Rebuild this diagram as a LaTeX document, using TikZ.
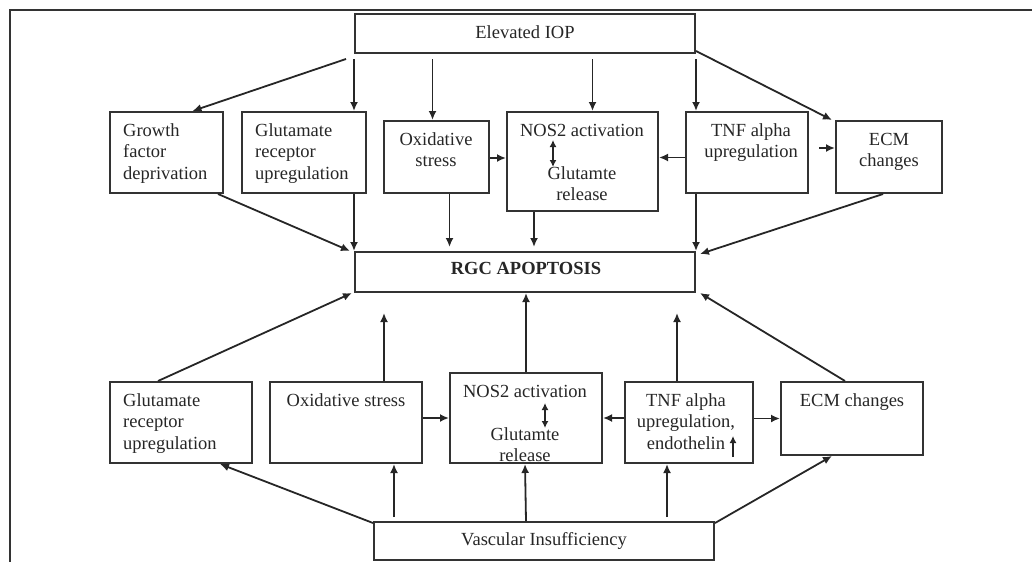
\documentclass[tikz,border=0pt]{standalone}
\usepackage{fontspec}
\setmainfont{Liberation Serif}
\usetikzlibrary{arrows.meta}

\begin{document}
\begin{tikzpicture}[x=1pt, y=-1pt,
	box/.style={draw=black!80, line width=2pt, inner sep=0pt},
	txt/.style={inner sep=0pt, font=\fontsize{18.5}{21.7}\selectfont, text=black!85},
	arr/.style={draw=black!85, line width=1.8pt, -{Latex[length=9pt,width=8pt]}},
	darr/.style={draw=black!85, line width=1.8pt, {Latex[length=7pt,width=7pt]}-{Latex[length=7pt,width=7pt]}}]
	\useasboundingbox (0,0) rectangle (1032,562);
	\draw[line width=2pt, black!80] (1032,10) -- (10,10) -- (10,562);
	% boxes
	\node[box, minimum width=340pt, minimum height=39pt] (iop) at (525,33.5) {};
	\node[box, minimum width=113pt, minimum height=81pt] (t1) at (166.5,152.5) {};
	\node[box, minimum width=124pt, minimum height=81pt] (t2) at (304,152.5) {};
	\node[box, minimum width=105pt, minimum height=72pt] (t3) at (436.5,157) {};
	\node[box, minimum width=151pt, minimum height=99pt] (t4) at (582.5,161.5) {};
	\node[box, minimum width=122pt, minimum height=81pt] (t5) at (747,152.5) {};
	\node[box, minimum width=106pt, minimum height=72pt] (t6) at (889,157) {};
	\node[box, minimum width=340pt, minimum height=40pt] (rgc) at (525,272) {};
	\node[box, minimum width=142pt, minimum height=81pt] (b1) at (181,422.5) {};
	\node[box, minimum width=152pt, minimum height=81pt] (b2) at (346,422.5) {};
	\node[box, minimum width=152pt, minimum height=90pt] (b3) at (526,418) {};
	\node[box, minimum width=128pt, minimum height=81pt] (b4) at (689,422.5) {};
	\node[box, minimum width=142pt, minimum height=73pt] (b5) at (852,418.5) {};
	\node[box, minimum width=340pt, minimum height=38pt] (vas) at (544,541) {};
	% texts (base = last line)
	\node[txt, anchor=base] (iopt) at (525,38) {Elevated IOP};
	\node[txt, anchor=base west, align=left] (t1t) at (123,179.4) {Growth\\factor\\deprivation};
	\node[txt, anchor=base west, align=left] (t2t) at (255,179.4) {Glutamate\\receptor\\upregulation};
	\node[txt, anchor=base, align=center] (t3t) at (436,166.7) {Oxidative\\stress};
	\node[txt, anchor=base, align=center] (t4t) at (582,200.7) {NOS2 activation\\[21.3pt]Glutamte\\release};
	\node[txt, anchor=base, align=center] (t5t) at (751,157.7) {TNF alpha\\upregulation};
	\node[txt, anchor=base, align=center] (t6t) at (889,166.7) {ECM\\changes};
	\node[txt, anchor=base, font=\fontsize{18.5}{21.7}\selectfont\bfseries] (rgct) at (526,274) {RGC APOPTOSIS};
	\node[txt, anchor=base west, align=left] (b1t) at (123,449.4) {Glutamate\\receptor\\upregulation};
	\node[txt, anchor=base] (b2t) at (346,406) {Oxidative stress};
	\node[txt, anchor=base, align=center] (b3t) at (525,461.7) {NOS2 activation\\[21.3pt]Glutamte\\release};
	\node[txt, anchor=base, align=center] (b4t) at (686,449.4) {TNF alpha\\upregulation,\\endothelin};
	\node[txt, anchor=base] (b5t) at (852,406) {ECM changes};
	\node[txt, anchor=base] (vast) at (544,545) {Vascular Insufficiency};
	% small arrows inside boxes
	\coordinate (t4a) at (553,140);
	\coordinate (t4b) at (553,167);
	\coordinate (b3a) at (545,403);
	\coordinate (b3b) at (545,428);
	\coordinate (b4a) at (733,457);
	\coordinate (b4b) at (733,436);
	\draw[darr] (t4a) -- (t4b);
	\draw[darr] (b3a) -- (b3b);
	\draw[arr, -{Latex[length=7pt,width=7pt]}] (b4a) -- (b4b);
	% elevated IOP to top row
	\draw[arr] ([xshift=-8pt,yshift=-5pt]iop.south west) -- ([xshift=26pt]t1.north);
	\draw[arr, shorten <=5pt] (iop.south west) -- (iop.south west |- t2.north);
	\draw[arr, shorten <=5pt] ([xshift=-4pt]t3.north |- iop.south) -- ([xshift=-4pt]t3.north);
	\draw[arr, shorten <=5pt] ([xshift=10pt]t4.north |- iop.south) -- ([xshift=10pt]t4.north);
	\draw[arr, shorten <=5pt] (iop.south east) -- (iop.south east |- t5.north);
	\draw[arr] ([yshift=3pt]iop.south east) -- ([xshift=-3pt]t6.north west);
	% top row side arrows
	\draw[arr] ([yshift=-1pt]t3.east) -- ([yshift=-1pt]t4.west |- t3.east);
	\draw[arr] ([yshift=-5pt]t5.west) -- ([yshift=-5pt]t4.east |- t5.west);
	\draw[arr, shorten <=10pt] ([yshift=9pt]t6.west -| t5.east) -- ([yshift=9pt]t6.west);
	% top row to RGC
	\draw[arr] ([xshift=-6pt]t1.south east) -- ([xshift=-4pt]rgc.north west);
	\draw[arr] (rgc.north west |- t2.south) -- (rgc.north west);
	\draw[arr, shorten >=4pt] ([xshift=13pt]t3.south) -- ([xshift=13pt]t3.south |- rgc.north);
	\draw[arr, shorten >=4pt] ([xshift=28pt]t4.south west) -- ([xshift=28pt]t4.south west |- rgc.north);
	\draw[arr] (rgc.north east |- t5.south) -- (rgc.north east);
	\draw[arr] ([xshift=-6pt]t6.south) -- ([xshift=4pt,yshift=-3pt]rgc.north east);
	% bottom row to RGC
	\draw[arr] ([xshift=-23pt]b1.north) -- ([xshift=-2pt]rgc.south west);
	\draw[arr, shorten >=20pt] ([xshift=38pt]b2.north) -- ([xshift=38pt]b2.north |- rgc.south);
	\draw[arr] (b3.north) -- (b3.north |- rgc.south);
	\draw[arr, shorten >=20pt] ([xshift=-12pt]b4.north) -- ([xshift=-12pt]b4.north |- rgc.south);
	\draw[arr] ([xshift=-7pt]b5.north) -- ([xshift=4pt]rgc.south east);
	% bottom row side arrows
	\draw[arr] (b3.west -| b2.east) -- (b3.west);
	\draw[arr] (b3.east -| b4.west) -- (b3.east);
	\draw[arr] (b5.west -| b4.east) -- (b5.west);
	% vascular insufficiency to bottom row
	\draw[arr] ([yshift=-2pt]vas.north west) -- ([xshift=39pt]b1.south);
	\draw[arr, shorten <=4pt] ([xshift=48pt]b2.south |- vas.north) -- ([xshift=48pt]b2.south);
	\draw[arr] (b3.south |- vas.north) -- ([xshift=-1pt]b3.south);
	\draw[arr, shorten <=4pt] ([xshift=-22pt]b4.south |- vas.north) -- ([xshift=-22pt]b4.south);
	\draw[arr] ([yshift=-2pt]vas.north east) -- ([xshift=-20pt]b5.south);
\end{tikzpicture}
\end{document}
